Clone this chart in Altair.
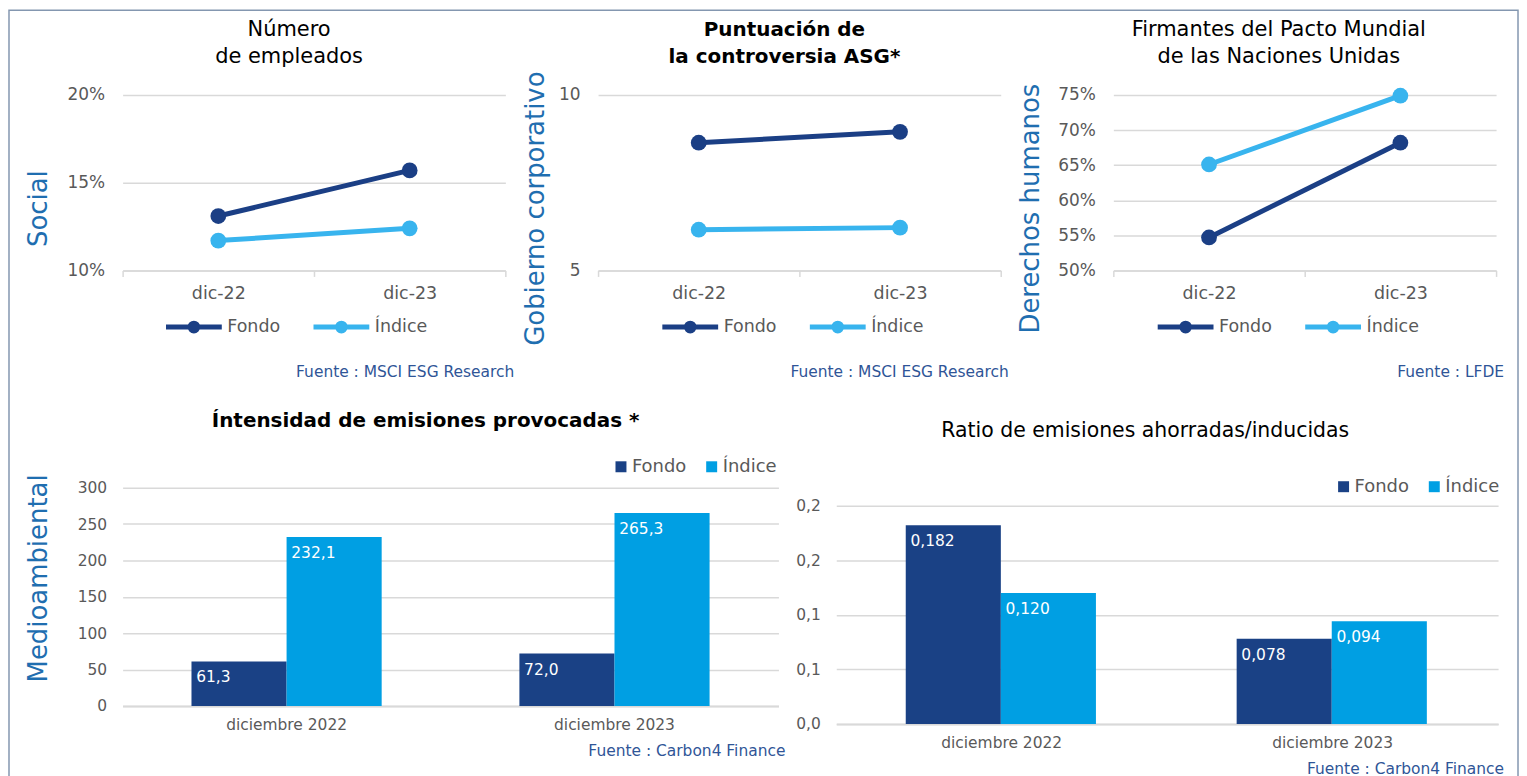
import altair as alt
import pandas as pd

FONT = "DejaVu Sans"
NAVY = "#1b3f85"
LIGHT_LINE = "#38b4ee"
BAR_FONDO = "#1a4185"
BAR_INDICE = "#009fe3"
GRID = "#d9d9d9"
LABEL = "#595959"
AXIS_TITLE = "#1f6eb0"
SOURCE = "#2f5597"
BORDER = "#8497b0"

# ---------------- data ----------------
series = ["Fondo", "Índice"]
line_periods = ["dic-22", "dic-23"]
empleados_fondo = [0.131, 0.157]
empleados_indice = [0.117, 0.124]
controversia_fondo = [8.64, 8.95]
controversia_indice = [6.16, 6.22]
pacto_fondo = [0.547, 0.682]
pacto_indice = [0.651, 0.749]

bar_periods = ["diciembre 2022", "diciembre 2023"]
intensidad_fondo = [61.3, 72.0]
intensidad_indice = [232.1, 265.3]
ratio_fondo = [0.182, 0.078]
ratio_indice = [0.120, 0.094]


def long_df(periods, fondo, indice, decimals=1):
    rows = []
    for s, vals in zip(series, [fondo, indice]):
        for p, v in zip(periods, vals):
            rows.append({"periodo": p, "serie": s, "linea": s, "valor": v,
                         "etiqueta": f"{v:.{decimals}f}".replace(".", ",")})
    return pd.DataFrame(rows)


one = pd.DataFrame({"k": [0]})


def text_at(text, x, y, size, color="#000000", bold=False, align="center", angle=None):
    kw = dict(fontSize=size, color=color, align=align, baseline="middle", font=FONT,
              fontWeight="bold" if bold else "normal")
    if angle is not None:
        kw["angle"] = angle
    return alt.Chart(one).mark_text(**kw).encode(
        x=alt.value(x), y=alt.value(y), text=alt.value(text))


# legend symbol: a line with a dot in the middle (drawn with the stroke)
STROKE_PATH = ("M-1,0H1 M-0.14,0A0.14,0.14,0,1,1,0.14,0A0.14,0.14,0,1,1,-0.14,0Z "
               "M-0.04,0A0.04,0.04,0,1,1,0.04,0A0.04,0.04,0,1,1,-0.04,0Z")

INDEP = dict(color="independent", fill="independent", stroke="independent")


def line_panel(fondo, indice, width, domain, ticks, fmt, title_lines, title_x, bold,
               ytitle, ytitle_x, legend_x, source, source_x):
    df = long_df(line_periods, fondo, indice)
    cscale = alt.Scale(domain=series, range=[NAVY, LIGHT_LINE])
    x = alt.X("periodo:N", sort=line_periods,
              scale=alt.Scale(paddingInner=0, paddingOuter=0),
              axis=alt.Axis(title=None, labelAngle=0, labelFontSize=17.5, labelColor=LABEL,
                            labelPadding=8, domainColor=GRID, domainWidth=1.5, ticks=True,
                            tickBand="extent", tickColor=GRID, tickSize=6, tickWidth=1.5,
                            grid=False))
    y = alt.Y("valor:Q", scale=alt.Scale(domain=domain, nice=False, zero=False),
              axis=alt.Axis(title=None, values=ticks, format=fmt, labelFontSize=17,
                            labelColor=LABEL, labelPadding=18, domain=False, ticks=False,
                            grid=True, gridColor=GRID, gridWidth=1.5))
    base = alt.Chart(df)
    sleg = alt.Legend(title=None, orient="none", legendX=legend_x, legendY=202,
                      direction="horizontal", columns=2, labelFontSize=17.5,
                      labelColor=LABEL, labelOffset=3, columnPadding=22, symbolOpacity=1,
                      symbolType=STROKE_PATH, symbolSize=3136, symbolStrokeWidth=5)
    lines = base.mark_line(strokeWidth=5).encode(
        x=x, y=y, stroke=alt.Stroke("linea:N", scale=cscale, legend=sleg))
    pts = base.mark_circle(size=250, opacity=1).encode(
        x=x, y=y, fill=alt.Fill("serie:N", scale=cscale, legend=None))
    layers = [lines, pts]
    for i, t in enumerate(title_lines):
        layers.append(text_at(t, title_x, -65 + 27 * i, 21 if not bold else 20, bold=bold))
    layers.append(text_at(ytitle, ytitle_x, 114, 26, color=AXIS_TITLE, angle=270))
    layers.append(text_at(source, source_x, 278, 15.5, color=SOURCE, align="right"))
    return alt.layer(*layers).properties(width=width, height=176)


def bar_panel(fondo, indice, width, domain, ticks, label_expr, decimals, title, title_x,
              title_y, bold, legend_x, legend_y, source, source_x, ytitle=None):
    df = long_df(bar_periods, fondo, indice, decimals)
    cscale = alt.Scale(domain=series, range=[BAR_FONDO, BAR_INDICE])
    x = alt.X("periodo:N", sort=bar_periods,
              scale=alt.Scale(paddingInner=0.42, paddingOuter=0.21),
              axis=alt.Axis(title=None, labelAngle=0, labelFontSize=15.5, labelColor=LABEL,
                            labelPadding=12, ticks=False, domainColor=GRID, domainWidth=2))
    xo = alt.XOffset("serie:N", sort=series, scale=alt.Scale(paddingInner=0, paddingOuter=0))
    yax = dict(title=None, values=ticks, labelFontSize=15.5, labelColor=LABEL,
               labelPadding=16, domain=False, ticks=False, grid=True, gridColor=GRID,
               gridWidth=1.5)
    if label_expr:
        yax["labelExpr"] = label_expr
    y = alt.Y("valor:Q", scale=alt.Scale(domain=domain, nice=False), axis=alt.Axis(**yax))
    base = alt.Chart(df)
    bars = base.mark_bar().encode(
        x=x, xOffset=xo, y=y,
        color=alt.Color("serie:N", scale=cscale,
                        legend=alt.Legend(title=None, orient="none", legendX=legend_x,
                                          legendY=legend_y, direction="horizontal",
                                          columns=2, symbolType="square", symbolSize=121,
                                          symbolStrokeWidth=0, symbolOpacity=1,
                                          labelFontSize=18, labelColor=LABEL,
                                          labelOffset=2, columnPadding=16)))
    labels = base.mark_text(align="left", baseline="middle", dx=-43, dy=16, color="white",
                            fontSize=15.5, font=FONT).encode(
        x=x, xOffset=xo, y=y, text="etiqueta:N")
    layers = [bars, labels,
              text_at(title, title_x, title_y, 20 if bold else 20.5, bold=bold),
              text_at(source, source_x, 264, 15.5, color=SOURCE, align="right")]
    if ytitle:
        layers.append(text_at(ytitle, -84, 91, 26, color=AXIS_TITLE, angle=270))
    return alt.layer(*layers).properties(width=width, height=219)


def spacer(w, h):
    return alt.Chart(one).mark_point(opacity=0, size=1).encode(
        x=alt.value(0), y=alt.value(0)).properties(width=w, height=h)


p1 = line_panel(empleados_fondo, empleados_indice, 384, [0.10, 0.20], [0.10, 0.15, 0.20],
                ".0%", ["Número", "de empleados"], 167, False, "Social", -84, 41,
                "Fuente : MSCI ESG Research", 393)
border = alt.Chart(one).mark_rect(fillOpacity=0, stroke=BORDER, strokeWidth=1.5).encode(
    x=alt.value(-114), x2=alt.value(1400), y=alt.value(-85), y2=alt.value(697))
p1 = alt.layer(border, p1)

p2 = line_panel(controversia_fondo, controversia_indice, 404, [5, 10], [5, 10], "d",
                ["Puntuación de", "la controversia ASG*"], 187, True,
                "Gobierno corporativo", -62, 62, "Fuente : MSCI ESG Research", 412)
p3 = line_panel(pacto_fondo, pacto_indice, 384, [0.50, 0.75],
                [0.50, 0.55, 0.60, 0.65, 0.70, 0.75], ".0%",
                ["Firmantes del Pacto Mundial", "de las Naciones Unidas"], 166, False,
                "Derechos humanos", -83, 42, "Fuente : LFDE", 392)

p4 = bar_panel(intensidad_fondo, intensidad_indice, 658, [0, 300],
               [0, 50, 100, 150, 200, 250, 300], None, 1,
               "Íntensidad de emisiones provocadas *", 304, -67, True, 491, -30,
               "Fuente : Carbon4 Finance", 665, ytitle="Medioambiental")
p5 = bar_panel(ratio_fondo, ratio_indice, 664, [0, 0.2], [0, 0.05, 0.1, 0.15, 0.2],
               "replace(format(datum.value + 1e-9, '.1f'), '.', ',')", 3,
               "Ratio de emisiones ahorradas/inducidas", 310, -75, False, 500, -28,
               "Fuente : Carbon4 Finance", 670)

top = alt.hconcat(p1, spacer(93, 10), p2, spacer(113, 10), p3, spacing=0,
                  bounds="flush").resolve_scale(**INDEP).resolve_legend(**INDEP)
p5col = alt.vconcat(spacer(10, 18), p5, spacing=0,
                    bounds="flush").resolve_scale(**INDEP).resolve_legend(**INDEP)
bottom = alt.hconcat(p4, spacer(58, 10), p5col, spacing=0,
                     bounds="flush").resolve_scale(**INDEP).resolve_legend(**INDEP)
chart = (alt.vconcat(top, bottom, spacing=394, bounds="flush")
         .resolve_scale(**INDEP).resolve_legend(**INDEP)
         .properties(padding=0)
         .configure(font=FONT)
         .configure_view(stroke=None))

chart.save("out.html", embed_options={"renderer": "svg", "actions": False})
